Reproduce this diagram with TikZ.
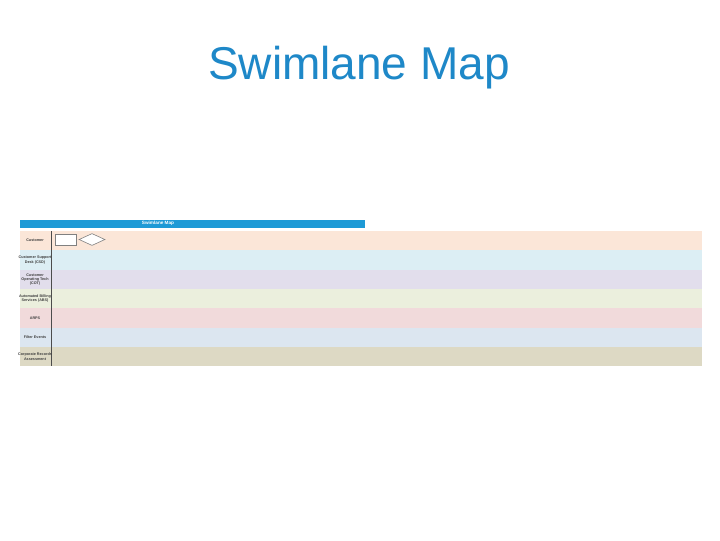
\documentclass[tikz,border=0pt]{standalone}
\usepackage{fontspec}
\setmainfont{Liberation Sans}
\usetikzlibrary{shapes.geometric}
\definecolor{titleblue}{HTML}{1E88C8}
\definecolor{headblue}{HTML}{1E9AD6}
\definecolor{laneA}{HTML}{FBE6D8}
\definecolor{laneB}{HTML}{DCEEF4}
\definecolor{laneC}{HTML}{E2DEEC}
\definecolor{laneD}{HTML}{EBEFDD}
\definecolor{laneE}{HTML}{F1DADB}
\definecolor{laneF}{HTML}{DCE6F0}
\definecolor{laneG}{HTML}{DDD9C4}
\tikzset{
  lanelabel/.style={font=\fontsize{2.8}{3.3}\selectfont\bfseries, text=black!75, align=center, inner sep=0pt},
  shapeline/.style={draw=black!50, fill=white, line width=0.45pt, inner sep=0pt},
}
\begin{document}
\begin{tikzpicture}[x=0.75pt,y=-0.75pt]
\useasboundingbox[fill=white] (0,0) rectangle (720,540);
\node[font=\fontsize{34.5}{40}\selectfont, text=titleblue, inner sep=0pt] (title) at (359,68) {Swimlane Map};
% header bar
\fill[headblue] (20,220) rectangle (365,227.5);
\node[font=\fontsize{3.5}{4}\selectfont\bfseries, text=white, inner sep=0pt] (head) at (158,223.7) {Swimlane Map};
% lanes
\fill[laneA] (20,231) rectangle (702,250);
\fill[laneB] (20,250) rectangle (702,270);
\fill[laneC] (20,270) rectangle (702,289);
\fill[laneD] (20,289) rectangle (702,308);
\fill[laneE] (20,308) rectangle (702,328);
\fill[laneF] (20,328) rectangle (702,347);
\fill[laneG] (20,347) rectangle (702,366);
\draw[black!70, line width=0.6pt] (51,231) -- (51,366);
\node[lanelabel] (l1) at (35,240.5) {Customer};
\node[lanelabel] (l2) at (35,260) {Customer Support\\Desk (CSD)};
\node[lanelabel] (l3) at (35,279.5) {Customer\\Operating Tech\\(COT)};
\node[lanelabel] (l4) at (35,298.5) {Automated Billing\\Services (ABS)};
\node[lanelabel] (l5) at (35,318) {ARPS};
\node[lanelabel] (l6) at (35,337.5) {Filter Events};
\node[lanelabel] (l7) at (35,356.5) {Corporate Records\\Assessment};
% shapes in customer lane
\node[shapeline, minimum width=15.75pt, minimum height=8.6pt] (box) at (65.5,239.7) {};
\node[shapeline, diamond, minimum width=19.5pt, minimum height=9pt] (dia) at (92,239.5) {};
\end{tikzpicture}
\end{document}
